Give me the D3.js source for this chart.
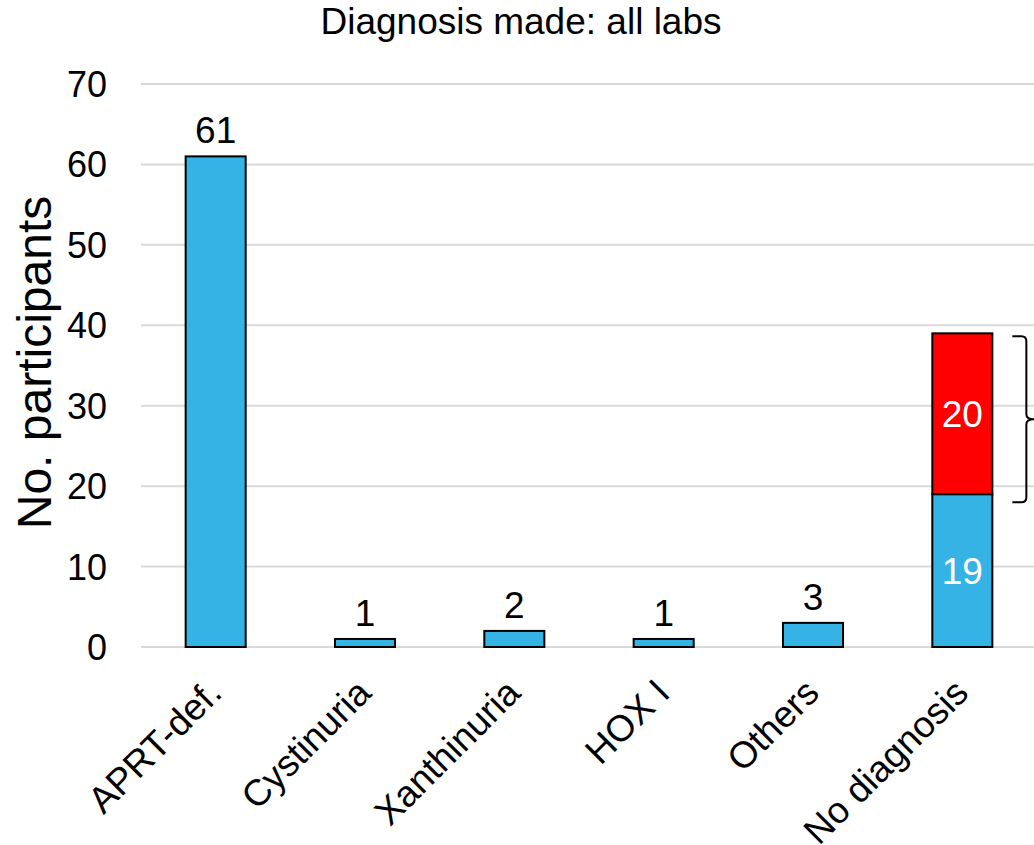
<!doctype html>
<html lang="en">
<head>
  <meta charset="UTF-8">
  <script src="https://cdn.jsdelivr.net/npm/d3@7/dist/d3.min.js"></script>
  <title>Diagnosis made: all labs</title>
  <style>
    body{ margin:0; background:#fff;}
    .chart svg text{ font-family: "Liberation Sans", Arial, sans-serif; fill:#000;}
  </style>
</head>
<body>
  <div class="chart"></div>
  <script>
    const categories = ["APRT-def.", "Cystinuria", "Xanthinuria", "HOX I", "Others", "No diagnosis"];
    const diagnosedValues = [61, 1, 2, 1, 3, 19];
    const extraValues = [0, 0, 0, 0, 0, 20];
    const yTicks = [0, 10, 20, 30, 40, 50, 60, 70];

    const bxSize = {w:1034, h:845};
    const plot = {left:141, right:1037, top:84, bottom:647};

    const svg = d3.select('.chart')
      .append('svg')
      .attr('width', bxSize.w).attr('height', bxSize.h);

    const xScale = d3.scaleBand().domain(categories).range([plot.left, plot.right])
      .paddingInner(0.598).paddingOuter(0.299);
    const yScale = d3.scaleLinear().domain([0, 70]).range([plot.bottom, plot.top]);

    // grid
    svg.append('g').selectAll('line').data(yTicks).enter().append('line')
      .attr('x1', plot.left).attr('x2', bxSize.w)
      .attr('y1', d => yScale(d)).attr('y2', d => yScale(d))
      .attr('stroke', '#d9d9d9').attr('stroke-width', 2);

    // y labels
    svg.append('g').selectAll('text').data(yTicks).enter().append('text')
      .attr('x', 107).attr('y', d => yScale(d)).attr('dy', '0.36em')
      .attr('text-anchor', 'end').attr('font-size', 36).text(d => d);

    svg.append('text')
      .attr('transform', `translate(51 ${(plot.top + plot.bottom) / 2 - 3}) rotate(-90)`)
      .attr('text-anchor', 'middle').attr('font-size', 48).text('No. participants');

    svg.append('text').attr('x', 521).attr('y', 34).attr('text-anchor', 'middle')
      .attr('font-size', 37).text('Diagnosis made: all labs');

    const rows = categories.map((c, i) => ({c, a: diagnosedValues[i], b: extraValues[i]}));

    // bars
    const bars = svg.append('g').selectAll('g').data(rows).enter().append('g');
    bars.append('rect')
      .attr('x', d => xScale(d.c)).attr('width', xScale.bandwidth())
      .attr('y', d => yScale(d.a)).attr('height', d => yScale(0) - yScale(d.a))
      .attr('fill', '#35B3E5').attr('stroke', '#000').attr('stroke-width', 2);
    bars.filter(d => d.b > 0).append('rect')
      .attr('x', d => xScale(d.c)).attr('width', xScale.bandwidth())
      .attr('y', d => yScale(d.a + d.b)).attr('height', d => yScale(d.a) - yScale(d.a + d.b))
      .attr('fill', '#FF0000').attr('stroke', '#000').attr('stroke-width', 2);

    const cx = d => xScale(d.c) + xScale.bandwidth() / 2;
    bars.filter(d => d.b === 0).append('text')
      .attr('x', cx).attr('y', d => yScale(d.a) - 13)
      .attr('text-anchor', 'middle').attr('font-size', 37).text(d => d.a);
    bars.filter(d => d.b > 0).append('text')
      .attr('x', cx).attr('y', d => yScale(d.a / 2)).attr('dy', '0.36em')
      .attr('text-anchor', 'middle').attr('font-size', 37).style('fill', '#fff').text(d => d.a);
    bars.filter(d => d.b > 0).append('text')
      .attr('x', cx).attr('y', d => yScale(d.a + d.b / 2)).attr('dy', '0.36em')
      .attr('text-anchor', 'middle').attr('font-size', 37).style('fill', '#fff').text(d => d.b);

    // category labels
    svg.append('g').selectAll('text').data(categories).enter().append('text')
      .attr('transform', d => `translate(${xScale(d) + xScale.bandwidth() / 2 + 8} ${plot.bottom + 48}) rotate(-45)`)
      .attr('text-anchor', 'end').attr('font-size', 37).text(d => d);

    // brace next to the stacked bar
    const last = rows[rows.length - 1];
    const bx = xScale(last.c) + xScale.bandwidth() + 20;
    const bTop = yScale(last.a + last.b) + 3, bBot = yScale(last.a) + 8, bMid = (bTop + bBot) / 2;
    const p = d3.path();
    p.moveTo(bx, bTop);
    p.lineTo(bx + 9, bTop);
    p.quadraticCurveTo(bx + 14, bTop, bx + 14, bTop + 5);
    p.lineTo(bx + 14, bMid - 5);
    p.quadraticCurveTo(bx + 14, bMid, bx + 22, bMid);
    p.quadraticCurveTo(bx + 14, bMid, bx + 14, bMid + 5);
    p.lineTo(bx + 14, bBot - 5);
    p.quadraticCurveTo(bx + 14, bBot, bx + 9, bBot);
    p.lineTo(bx, bBot);
    svg.append('path').attr('d', p.toString()).attr('fill', 'none')
      .attr('stroke', '#000').attr('stroke-width', 2);
  </script>
</body>
</html>
